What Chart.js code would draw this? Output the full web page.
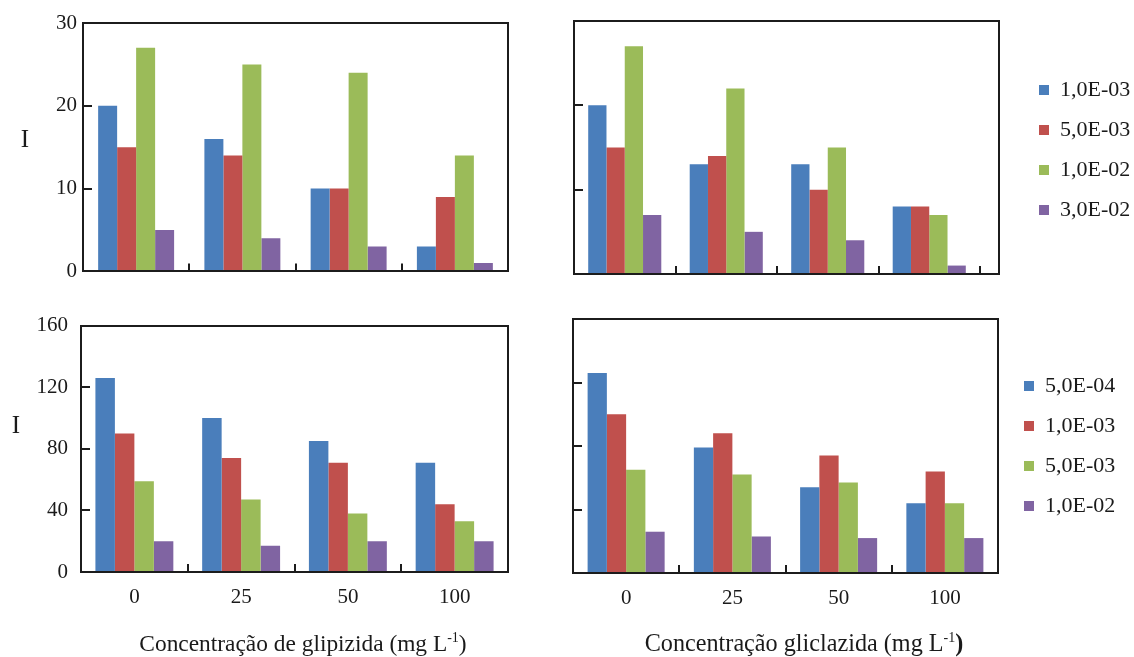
<!DOCTYPE html>
<html>
<head>
<meta charset="utf-8">
<script src="https://cdn.jsdelivr.net/npm/chart.js@4.4.1/dist/chart.umd.min.js"></script>
<style>
  html, body { margin: 0; padding: 0; background: #fff; overflow: hidden; width: 1134px; height: 657px; }
  canvas { position: absolute; }
</style>
</head>
<body>
<canvas id="glipUpper" width="540" height="290" style="left:0;top:0"></canvas>
<canvas id="glicUpper" width="594" height="300" style="left:540px;top:0"></canvas>
<canvas id="glipLower" width="540" height="357" style="left:0;top:300px"></canvas>
<canvas id="glicLower" width="594" height="357" style="left:540px;top:300px"></canvas>
<script>
// Drug concentration (mg L-1) on the category axis
const concentrations = ['0', '25', '50', '100'];

// Legend names for the two rows
const upperSeriesNames = ['1,0E-03', '5,0E-03', '1,0E-02', '3,0E-02'];
const lowerSeriesNames = ['5,0E-04', '1,0E-03', '5,0E-03', '1,0E-02'];

// Y tick values
const upperTicks = [0, 10, 20, 30];
const lowerTicks = [0, 40, 80, 120, 160];

// Glipizida, upper row (I)
const glipUpper1 = [20, 16, 10, 3];
const glipUpper2 = [15, 14, 10, 9];
const glipUpper3 = [27, 25, 24, 14];
const glipUpper4 = [5, 4, 3, 1];

// Gliclazida, upper row (I)
const glicUpper1 = [20, 13, 13, 8];
const glicUpper2 = [15, 14, 10, 8];
const glicUpper3 = [27, 22, 15, 7];
const glicUpper4 = [7, 5, 4, 1];

// Glipizida, lower row (I)
const glipLower1 = [126, 100, 85, 71];
const glipLower2 = [90, 74, 71, 44];
const glipLower3 = [59, 47, 38, 33];
const glipLower4 = [20, 17, 20, 20];

// Gliclazida, lower row (I)
const glicLower1 = [126, 79, 54, 44];
const glicLower2 = [100, 88, 74, 64];
const glicLower3 = [65, 62, 57, 44];
const glicLower4 = [26, 23, 22, 22];

const seriesColors = ['#4A7EBB', '#C0504D', '#9BBB59', '#8064A2'];

const SERIF = '"Liberation Serif", "Times New Roman", serif';
const INK = '#1a1a1a';
Chart.defaults.font.family = SERIF;
Chart.defaults.color = INK;

// Box around the plot area plus short inward tick marks
const panelFrame = {
  id: 'panelFrame',
  afterDatasetsDraw(chart, args, opts) {
    const { ctx, chartArea: a, scales: { x, y } } = chart;
    ctx.save();
    ctx.strokeStyle = '#1c1c1c';
    ctx.lineWidth = 2;
    ctx.beginPath();
    y.ticks.forEach(t => {
      const py = Math.round(y.getPixelForValue(t.value));
      ctx.moveTo(a.left, py);
      ctx.lineTo(a.left + 9, py);
    });
    for (let i = 0; i < opts.xTickCount; i++) {
      const px = Math.round(x.getPixelForValue(i + 0.5));
      ctx.moveTo(px, a.bottom);
      ctx.lineTo(px, a.bottom - 8);
    }
    ctx.stroke();
    const l = Math.round(a.left), t = Math.round(a.top);
    const r = Math.round(a.right + (opts.extraRight || 0)), b = Math.round(a.bottom);
    ctx.strokeRect(l, t, r - l, b - t);
    ctx.restore();
  }
};

// Axis letter "I" and the x-axis caption with its superscript unit
const panelText = {
  id: 'panelText',
  afterDraw(chart, args, opts) {
    const ctx = chart.ctx;
    ctx.save();
    ctx.fillStyle = INK;
    if (opts.yLetter) {
      ctx.font = '25px ' + SERIF;
      ctx.textAlign = 'center';
      ctx.textBaseline = 'middle';
      ctx.fillText(opts.yLetter.text, opts.yLetter.x, opts.yLetter.y);
    }
    if (opts.xTitle) {
      const t = opts.xTitle;
      const mainFont = t.size + 'px ' + SERIF;
      const supFont = '14px ' + SERIF;
      const closeFont = (t.boldClose ? 'bold ' : '') + mainFont;
      ctx.textAlign = 'left';
      ctx.textBaseline = 'alphabetic';
      ctx.font = mainFont; const w1 = ctx.measureText(t.text).width;
      ctx.font = supFont; const w2 = ctx.measureText(t.sup).width;
      ctx.font = closeFont; const w3 = ctx.measureText(')').width;
      let cx = t.x - (w1 + w2 + w3) / 2;
      ctx.font = mainFont; ctx.fillText(t.text, cx, t.y); cx += w1;
      ctx.font = supFont; ctx.fillText(t.sup, cx, t.y - 9); cx += w2;
      ctx.font = closeFont; ctx.fillText(')', cx, t.y);
    }
    ctx.restore();
  }
};

function buildDatasets(names, values, catPct) {
  return names.map((name, i) => ({
    label: name,
    data: values[i],
    backgroundColor: seriesColors[i],
    borderWidth: 0,
    barPercentage: 1,
    categoryPercentage: catPct
  }));
}

function makePanel(id, p) {
  const scales = {
    x: {
      type: 'category',
      offset: true,
      grid: { display: false, drawTicks: false },
      border: { display: false },
      ticks: { display: p.showX, padding: 13, font: { size: 21 }, color: INK, maxRotation: 0 },
      afterFit: s => { s.height = p.xHeight; }
    },
    y: {
      position: 'left',
      min: 0,
      max: p.ticks[p.ticks.length - 1],
      grid: { display: false, drawTicks: false },
      border: { display: false },
      ticks: {
        display: p.showY,
        stepSize: p.ticks[1] - p.ticks[0],
        padding: p.yPad,
        font: { size: 21 },
        color: INK
      },
      afterFit: s => { s.width = p.yWidth; }
    }
  };
  if (p.legend) {
    scales.gap = {
      type: 'linear',
      position: 'right',
      display: true,
      grid: { display: false, drawTicks: false },
      border: { display: false },
      ticks: { display: false },
      afterFit: s => { s.width = p.gap; }
    };
  }
  return new Chart(document.getElementById(id), {
    type: 'bar',
    data: { labels: concentrations, datasets: buildDatasets(p.names, p.values, p.catPct) },
    options: {
      responsive: false,
      animation: false,
      devicePixelRatio: 1,
      layout: { padding: p.padding },
      scales,
      plugins: {
        tooltip: { enabled: false },
        legend: {
          display: !!p.legend,
          position: 'right',
          align: 'center',
          fullSize: p.legendFull !== false,
          maxWidth: 112,
          labels: {
            boxWidth: 10,
            boxHeight: 10,
            padding: 18,
            color: INK,
            font: { size: 22, family: SERIF }
          }
        },
        panelFrame: { xTickCount: p.xTickCount, extraRight: p.extraRight || 0 },
        panelText: { yLetter: p.yLetter || null, xTitle: p.xTitle || null }
      }
    },
    plugins: [panelFrame, panelText]
  });
}

makePanel('glipUpper', {
  names: upperSeriesNames,
  values: [glipUpper1, glipUpper2, glipUpper3, glipUpper4],
  ticks: upperTicks, catPct: 0.715,
  padding: { top: 23, right: 32, bottom: 0, left: 0 },
  yWidth: 83, xHeight: 17, yPad: 6,
  showX: false, showY: true, xTickCount: 3,
  yLetter: { text: 'I', x: 25, y: 140 }
});

makePanel('glicUpper', {
  names: upperSeriesNames,
  values: [glicUpper1, glicUpper2, glicUpper3, glicUpper4],
  ticks: upperTicks, catPct: 0.72,
  padding: { top: 21, right: 1, bottom: 21, left: 0 },
  yWidth: 34, xHeight: 5, yPad: 6,
  showX: false, showY: false, xTickCount: 4,
  legend: true, gap: 41, extraRight: 19
});

makePanel('glipLower', {
  names: lowerSeriesNames,
  values: [glipLower1, glipLower2, glipLower3, glipLower4],
  ticks: lowerTicks, catPct: 0.73,
  padding: { top: 18, right: 32, bottom: 0, left: 0 },
  yWidth: 81, xHeight: 85, yPad: 13,
  showX: true, showY: true, xTickCount: 3,
  yLetter: { text: 'I', x: 16, y: 126 },
  xTitle: { text: 'Concentração de glipizida (mg L', sup: '-1', size: 23.4, x: 303, y: 351, boldClose: false }
});

makePanel('glicLower', {
  names: lowerSeriesNames,
  values: [glicLower1, glicLower2, glicLower3, glicLower4],
  ticks: lowerTicks, catPct: 0.725,
  padding: { top: 19, right: 16, bottom: 0, left: 0 },
  yWidth: 33, xHeight: 84, yPad: 6,
  showX: true, showY: false, xTickCount: 3,
  legend: true, legendFull: false, gap: 8,
  xTitle: { text: 'Concentração gliclazida (mg L', sup: '-1', size: 24.2, x: 264, y: 351, boldClose: true }
});
</script>
</body>
</html>
